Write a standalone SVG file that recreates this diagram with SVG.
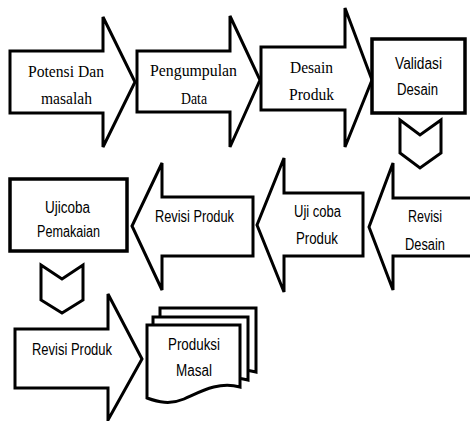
<svg xmlns="http://www.w3.org/2000/svg" width="470" height="421" viewBox="0 0 470 421">
  <style>
    .shape { fill: #ffffff; stroke: #000000; stroke-width: 3; stroke-linejoin: miter; }
    .box { fill: #ffffff; stroke: #000000; stroke-width: 3.5; }
    .serif { font-family: "Liberation Serif", "Times New Roman", serif; font-size: 17px; fill: #000000; }
    .sans { font-family: "Liberation Sans", Arial, sans-serif; font-size: 16px; fill: #000000; }
  </style>
  <rect width="470" height="421" fill="#ffffff"/>

  <!-- row 1: right-pointing block arrows -->
  <g id="potensi">
    <path class="shape" d="M10,51 H103 V17 L135,82 L103,147 V113 H10 Z"/>
    <text class="serif" x="28" y="77" textLength="76" lengthAdjust="spacingAndGlyphs">Potensi Dan</text>
    <text class="serif" x="41" y="104" textLength="51" lengthAdjust="spacingAndGlyphs">masalah</text>
  </g>
  <g id="pengumpulan">
    <path class="shape" d="M137,51 H230 V16 L260,80 L230,147 V112 H137 Z"/>
    <text class="serif" x="150" y="76" textLength="87" lengthAdjust="spacingAndGlyphs">Pengumpulan</text>
    <text class="serif" x="181" y="104" textLength="26" lengthAdjust="spacingAndGlyphs">Data</text>
  </g>
  <g id="desain-produk">
    <path class="shape" d="M261,47 H345 V8 L372,80 L345,147 V110 H261 Z"/>
    <text class="serif" x="290" y="73" textLength="43" lengthAdjust="spacingAndGlyphs">Desain</text>
    <text class="serif" x="289" y="100" textLength="45" lengthAdjust="spacingAndGlyphs">Produk</text>
  </g>
  <g id="validasi">
    <rect class="box" x="372" y="39" width="93" height="74"/>
    <text class="sans" x="395" y="69" textLength="47" lengthAdjust="spacingAndGlyphs">Validasi</text>
    <text class="sans" x="397" y="95" textLength="41" lengthAdjust="spacingAndGlyphs">Desain</text>
  </g>

  <!-- row 2: left-pointing block arrows -->
  <g id="revisi-desain">
    <path class="shape" d="M480,198 H393 V163 L369,227 L393,290 V256 H480 Z"/>
    <text class="sans" x="408" y="222" textLength="34" lengthAdjust="spacingAndGlyphs">Revisi</text>
    <text class="sans" x="405" y="250" textLength="40" lengthAdjust="spacingAndGlyphs">Desain</text>
  </g>
  <g id="uji-coba-produk">
    <path class="shape" d="M363,193 H284 V158 L257,225 L284,292 V256 H363 Z"/>
    <text class="sans" x="294" y="217" textLength="47" lengthAdjust="spacingAndGlyphs">Uji coba</text>
    <text class="sans" x="296" y="244" textLength="42" lengthAdjust="spacingAndGlyphs">Produk</text>
  </g>
  <g id="revisi-produk-1">
    <path class="shape" d="M253,197 H162 V163 L132,226 L162,290 V256 H253 Z"/>
    <text class="sans" x="155" y="222" textLength="79" lengthAdjust="spacingAndGlyphs">Revisi Produk</text>
  </g>
  <g id="ujicoba-pemakaian">
    <rect class="box" x="10" y="179" width="117" height="72"/>
    <text class="sans" x="45" y="213" textLength="45" lengthAdjust="spacingAndGlyphs">Ujicoba</text>
    <text class="sans" x="37" y="237" textLength="63" lengthAdjust="spacingAndGlyphs">Pemakaian</text>
  </g>

  <!-- row 3 -->
  <g id="revisi-produk-2">
    <path class="shape" d="M15,329 H108 V294 L142,359 L108,420 V388 H15 Z"/>
    <text class="sans" x="32" y="355" textLength="80" lengthAdjust="spacingAndGlyphs">Revisi Produk</text>
  </g>
  <g id="produksi-masal">
    <path class="shape" d="M160,308 H256 V372 C236,366 220,376 205,383 C190,389 175,385 160,380 Z"/>
    <path class="shape" d="M153,317 H248 V380 C228,374 212,384 197,391 C182,397 167,393 153,388 Z"/>
    <path class="shape" d="M147,325 H240 V387 C218,381 200,392 184,399 C170,405 158,402 147,398 Z"/>
    <text class="sans" x="168" y="350" textLength="52" lengthAdjust="spacingAndGlyphs">Produksi</text>
    <text class="sans" x="176" y="376" textLength="36" lengthAdjust="spacingAndGlyphs">Masal</text>
  </g>

  <!-- connectors: downward chevrons between rows -->
  <g id="connectors">
    <path class="shape" d="M400,120 L420,135 L441,120 V153 L420,168 L400,153 Z"/>
    <path class="shape" d="M41,265 L62,279 L83,265 V300 L62,313 L41,300 Z"/>
  </g>
</svg>
